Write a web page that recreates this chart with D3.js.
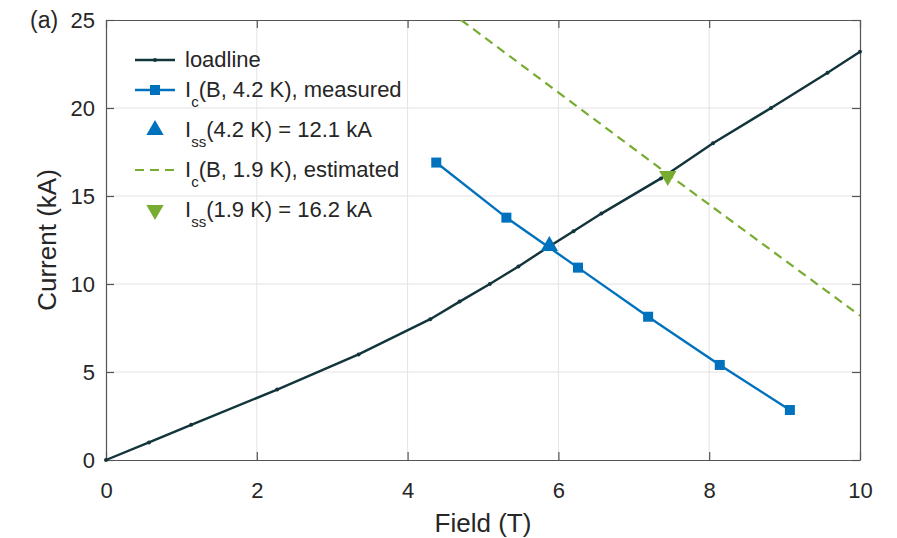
<!DOCTYPE html>
<html>
<head>
<meta charset="utf-8">
<script src="https://cdn.jsdelivr.net/npm/d3@7"></script>
<style>
  body { margin: 0; background: #fff; }
  text { font-family: "Liberation Sans", Arial, sans-serif; fill: #262626; }
</style>
</head>
<body>
<script>
// data
var loadField   = [0, 0.57, 1.13, 2.27, 3.35, 4.3, 4.69, 5.09, 5.47, 5.83, 6.2, 6.57, 7.36, 8.05, 8.82, 9.57, 10];
var loadCurrent = [0, 1, 2, 4, 6, 8, 9, 10, 11, 12, 13, 14, 16, 18, 20, 22, 23.2];
var measField   = [4.38, 5.31, 6.26, 7.19, 8.14, 9.07];
var measCurrent = [16.9, 13.77, 10.93, 8.14, 5.4, 2.84];
var estField    = [4.71, 7.45, 10];
var estCurrent  = [25, 16.25, 8.2];
var iss42 = [5.88, 12.1];
var iss19 = [7.45, 16.2];
var xTicks = [0, 2, 4, 6, 8, 10];
var yTicks = [0, 5, 10, 15, 20, 25];

var width = 897, height = 538;
var mLeft = 106, mRight = 860, mTop = 20, mBottom = 460;
var darkCol = "#12343b", blueCol = "#0072bd", greenCol = "#77ac30";

var svg = d3.select("body").append("svg")
            .attr("width", width)
            .attr("height", height);

var xScale = d3.scaleLinear().domain([0, 10]).range([mLeft, mRight]);
var yScale = d3.scaleLinear().domain([0, 25]).range([mBottom, mTop]);

// grid
svg.append("g").selectAll("line").data(xTicks.slice(1, -1)).enter().append("line")
   .attr("x1", function(d) { return xScale(d); }).attr("x2", function(d) { return xScale(d); })
   .attr("y1", mTop).attr("y2", mBottom)
   .attr("stroke", "#e3e3e3").attr("stroke-width", 1);
svg.append("g").selectAll("line").data(yTicks.slice(1, -1)).enter().append("line")
   .attr("y1", function(d) { return yScale(d); }).attr("y2", function(d) { return yScale(d); })
   .attr("x1", mLeft).attr("x2", mRight)
   .attr("stroke", "#e3e3e3").attr("stroke-width", 1);

// axes (box with inward ticks)
var axisStyle = function(g) {
    g.select(".domain").attr("stroke", "#555").attr("stroke-width", 1.2);
    g.selectAll(".tick line").attr("stroke", "#555").attr("stroke-width", 1.2);
    g.selectAll(".tick text").style("font-size", "22px").attr("fill", "#262626");
};
svg.append("g").attr("transform", "translate(0," + mBottom + ")")
   .call(d3.axisBottom(xScale).tickValues(xTicks).tickSizeInner(-8).tickSizeOuter(0).tickPadding(22))
   .call(axisStyle);
svg.append("g").attr("transform", "translate(" + mLeft + ",0)")
   .call(d3.axisLeft(yScale).tickValues(yTicks).tickSizeInner(-8).tickSizeOuter(0).tickPadding(11))
   .call(axisStyle);
svg.append("g").attr("transform", "translate(0," + mTop + ")")
   .call(d3.axisTop(xScale).tickValues(xTicks).tickSizeInner(-8).tickSizeOuter(0).tickFormat(""))
   .call(axisStyle);
svg.append("g").attr("transform", "translate(" + mRight + ",0)")
   .call(d3.axisRight(yScale).tickValues(yTicks).tickSizeInner(-8).tickSizeOuter(0).tickFormat(""))
   .call(axisStyle);

// axis labels
svg.append("text").attr("x", (mLeft + mRight) / 2).attr("y", 532)
   .attr("text-anchor", "middle").style("font-size", "26px").text("Field (T)");
svg.append("text").attr("transform", "translate(56," + ((mTop + mBottom) / 2) + ") rotate(-90)")
   .attr("text-anchor", "middle").style("font-size", "26px").text("Current (kA)");
svg.append("text").attr("x", 30).attr("y", 28).style("font-size", "23px").text("(a)");

var plot = svg.append("g");
plot.append("clipPath").attr("id", "clip").append("rect")
    .attr("x", mLeft).attr("y", mTop).attr("width", mRight - mLeft).attr("height", mBottom - mTop);

var line = d3.line().x(function(d) { return xScale(d[0]); }).y(function(d) { return yScale(d[1]); });
var zip = function(a, b) { return a.map(function(v, i) { return [v, b[i]]; }); };

// estimated Ic at 1.9 K
plot.append("path").datum(zip(estField, estCurrent)).attr("d", line)
    .attr("clip-path", "url(#clip)")
    .attr("fill", "none").attr("stroke", greenCol).attr("stroke-width", 2.2)
    .attr("stroke-dasharray", "9,6");

// loadline
var loadData = zip(loadField, loadCurrent);
plot.append("path").datum(loadData).attr("d", line)
    .attr("fill", "none").attr("stroke", darkCol).attr("stroke-width", 2.4);
plot.selectAll(".ld").data(loadData).enter().append("circle")
    .attr("cx", function(d) { return xScale(d[0]); }).attr("cy", function(d) { return yScale(d[1]); })
    .attr("r", 2).attr("fill", darkCol);

// measured Ic at 4.2 K
var measData = zip(measField, measCurrent);
plot.append("path").datum(measData).attr("d", line)
    .attr("fill", "none").attr("stroke", blueCol).attr("stroke-width", 2.4);
plot.selectAll(".ms").data(measData).enter().append("rect")
    .attr("x", function(d) { return xScale(d[0]) - 5; }).attr("y", function(d) { return yScale(d[1]) - 5; })
    .attr("width", 10).attr("height", 10).attr("fill", blueCol);

// operating points
var tri = d3.symbol().type(d3.symbolTriangle).size(130);
plot.append("path").attr("d", tri)
    .attr("transform", "translate(" + xScale(iss42[0]) + "," + (yScale(iss42[1]) - 1) + ")")
    .attr("fill", blueCol);
plot.append("path").attr("d", tri)
    .attr("transform", "translate(" + xScale(iss19[0]) + "," + (yScale(iss19[1]) + 1) + ") rotate(180)")
    .attr("fill", greenCol);

// legend
var leg = svg.append("g");
var lx0 = 135, lx1 = 175, lxm = (lx0 + lx1) / 2, tx = 185;
var rows = [60, 90, 130, 170, 210];
var addText = function(y, main, sub, rest) {
    var t = leg.append("text").attr("x", tx).attr("y", y + 7).style("font-size", "22px");
    t.append("tspan").text(main);
    if (sub) {
        t.append("tspan").attr("dy", 10).style("font-size", "15px").text(sub);
        t.append("tspan").attr("dy", -10).text(rest);
    }
};
// loadline
leg.append("line").attr("x1", lx0).attr("x2", lx1).attr("y1", rows[0]).attr("y2", rows[0])
   .attr("stroke", darkCol).attr("stroke-width", 2.4);
leg.append("circle").attr("cx", lxm).attr("cy", rows[0]).attr("r", 2).attr("fill", darkCol);
addText(rows[0], "loadline");
// measured
leg.append("line").attr("x1", lx0).attr("x2", lx1).attr("y1", rows[1]).attr("y2", rows[1])
   .attr("stroke", blueCol).attr("stroke-width", 2.4);
leg.append("rect").attr("x", lxm - 5).attr("y", rows[1] - 5).attr("width", 10).attr("height", 10).attr("fill", blueCol);
addText(rows[1], "I", "c", "(B, 4.2 K), measured");
// Iss 4.2
leg.append("path").attr("d", tri).attr("transform", "translate(" + lxm + "," + rows[2] + ")").attr("fill", blueCol);
addText(rows[2], "I", "ss", "(4.2 K) = 12.1 kA");
// estimated
leg.append("line").attr("x1", lx0).attr("x2", lx1).attr("y1", rows[3]).attr("y2", rows[3])
   .attr("stroke", greenCol).attr("stroke-width", 2.2).attr("stroke-dasharray", "9,6");
addText(rows[3], "I", "c", "(B, 1.9 K), estimated");
// Iss 1.9
leg.append("path").attr("d", tri).attr("transform", "translate(" + lxm + "," + rows[4] + ") rotate(180)").attr("fill", greenCol);
addText(rows[4], "I", "ss", "(1.9 K) = 16.2 kA");
</script>
</body>
</html>
